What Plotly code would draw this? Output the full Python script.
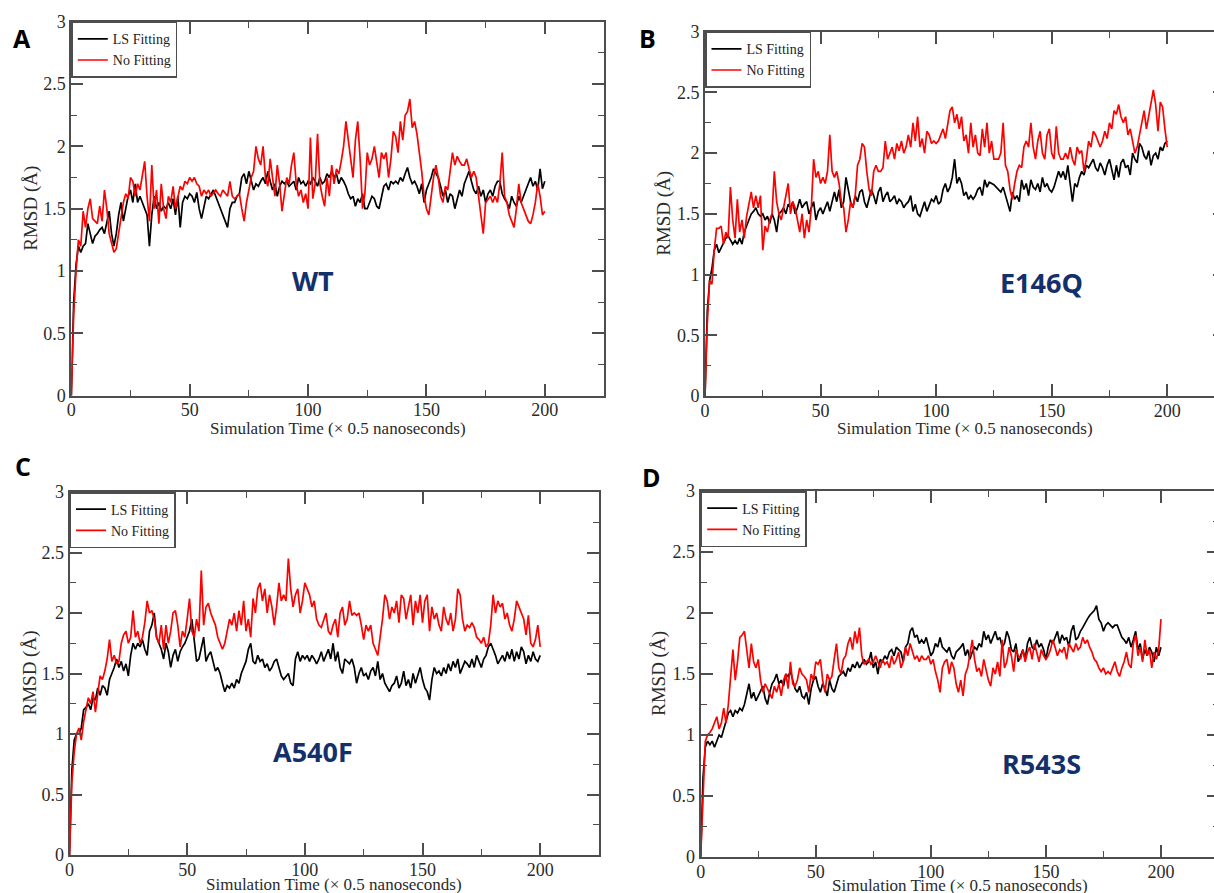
import plotly.graph_objects as go

# ---------------- data ----------------
time_steps = list(range(0, 201))

wt_ls = [0, 0.75, 1.05, 1.2,
         1.15, 1.2, 1.22, 1.38, 1.3, 1.22, 1.28,
         1.3, 1.33, 1.35, 1.3, 1.38, 1.48, 1.3, 1.2, 1.3, 1.45,
         1.55, 1.4, 1.5, 1.6, 1.65, 1.55, 1.7, 1.55, 1.6, 1.55,
         1.5, 1.45, 1.2, 1.45, 1.6, 1.5, 1.55, 1.48, 1.52, 1.5,
         1.55, 1.5, 1.58, 1.45, 1.6, 1.35, 1.55, 1.6, 1.58, 1.62,
         1.6, 1.55, 1.63, 1.5, 1.42, 1.5, 1.6, 1.58, 1.62, 1.65,
         1.6, 1.55, 1.5, 1.45, 1.4, 1.35, 1.5, 1.55, 1.55, 1.6,
         1.62, 1.75, 1.78, 1.7, 1.8, 1.72, 1.65, 1.7, 1.68, 1.72,
         1.75, 1.7, 1.8, 1.72, 1.65, 1.7, 1.6, 1.68, 1.72, 1.7,
         1.72, 1.68, 1.7, 1.72, 1.65, 1.75, 1.7, 1.72, 1.68, 1.72,
         1.7, 1.75, 1.72, 1.68, 1.75, 1.7, 1.72, 1.78, 1.75, 1.8,
         1.75, 1.78, 1.7, 1.75, 1.72, 1.68, 1.62, 1.58, 1.6, 1.52,
         1.58, 1.55, 1.62, 1.5, 1.5, 1.55, 1.6, 1.58, 1.52, 1.5,
         1.6, 1.68, 1.7, 1.65, 1.72, 1.7, 1.72, 1.7, 1.75, 1.72,
         1.78, 1.83, 1.75, 1.7, 1.72, 1.68, 1.62, 1.7, 1.55, 1.65,
         1.7, 1.75, 1.82, 1.78, 1.75, 1.68, 1.6, 1.65, 1.55, 1.62,
         1.6, 1.5, 1.58, 1.65, 1.6, 1.7, 1.75, 1.8, 1.72, 1.65,
         1.62, 1.68, 1.6, 1.65, 1.55, 1.62, 1.65, 1.6, 1.68, 1.72,
         1.72, 1.62, 1.58, 1.55, 1.5, 1.6, 1.55, 1.52, 1.6, 1.55,
         1.6, 1.65, 1.7, 1.75, 1.68, 1.72, 1.65, 1.82, 1.66, 1.72]

wt_nofit = [0, 0.65, 1.0, 1.25, 1.2,
            1.48, 1.35, 1.5, 1.58, 1.42, 1.4,
            1.38, 1.52, 1.4, 1.65, 1.5, 1.3, 1.22, 1.15, 1.18, 1.3,
            1.4, 1.55, 1.62, 1.58, 1.75, 1.72, 1.6, 1.7, 1.65, 1.75,
            1.88, 1.6, 1.4, 1.85, 1.5, 1.65, 1.38, 1.7, 1.5, 1.42,
            1.6, 1.55, 1.68, 1.5, 1.6, 1.68, 1.65, 1.72, 1.7, 1.75,
            1.72, 1.75, 1.7, 1.68, 1.6, 1.65, 1.62, 1.65, 1.6, 1.63,
            1.65, 1.62, 1.6, 1.65, 1.62, 1.6, 1.72, 1.6, 1.58, 1.6,
            1.62, 1.5, 1.4, 1.55, 1.65, 1.75, 1.8, 2.0, 1.9, 1.85,
            2.0, 1.75, 1.68, 1.9, 1.75, 1.6, 1.85, 1.7, 1.48, 1.62,
            1.75, 1.7, 1.85, 1.95, 1.7, 1.6, 1.65, 1.55, 1.62, 1.5,
            2.07, 1.58, 1.7, 2.1, 1.7, 1.6, 1.52, 1.75, 1.6, 1.85,
            1.7, 1.82, 1.78, 1.88, 2.0, 2.2, 2.05, 1.9, 1.75, 2.05,
            2.2, 1.9, 1.5, 1.62, 1.95, 1.85, 1.9, 2.0, 1.88, 1.75,
            1.95, 1.9, 1.95, 1.75, 1.9, 2.12, 2.08, 1.95, 2.2, 2.05,
            2.25, 2.28, 2.38, 2.15, 2.2, 2.1, 1.95, 1.8, 1.6, 1.5,
            1.45, 1.6, 1.75, 1.85, 1.75, 1.6, 1.55, 1.68, 1.65, 1.8,
            1.95, 1.85, 1.92, 1.88, 1.85, 1.85, 1.9, 1.82, 1.75, 1.8,
            1.75, 1.6, 1.45, 1.3, 1.55, 1.58, 1.6, 1.55, 1.6, 1.55,
            1.7, 1.95, 1.6, 1.55, 1.45, 1.4, 1.35, 1.5, 1.7, 1.55,
            1.5, 1.45, 1.4, 1.38, 1.45, 1.55, 1.7, 1.6, 1.45, 1.48]

e146q_ls = [0, 0.7, 0.95, 1.05, 1.2, 1.25, 1.18, 1.22, 1.25, 1.3,
            1.32, 1.28, 1.25, 1.28, 1.25, 1.3, 1.25, 1.35, 1.4, 1.45, 1.5,
            1.52, 1.55, 1.5, 1.48, 1.5, 1.45, 1.48, 1.42, 1.5, 1.45,
            1.35, 1.5, 1.52, 1.55, 1.5, 1.58, 1.55, 1.6, 1.5, 1.55,
            1.62, 1.55, 1.58, 1.6, 1.5, 1.55, 1.6, 1.45, 1.52, 1.55,
            1.5, 1.55, 1.6, 1.52, 1.6, 1.68, 1.6, 1.7, 1.55, 1.6,
            1.8, 1.7, 1.6, 1.55, 1.65, 1.6, 1.68, 1.7, 1.6, 1.55,
            1.62, 1.7, 1.65, 1.58, 1.68, 1.72, 1.6, 1.65, 1.68, 1.6,
            1.62, 1.65, 1.58, 1.62, 1.6, 1.55, 1.58, 1.6, 1.65, 1.52,
            1.58, 1.5, 1.48, 1.55, 1.6, 1.52, 1.58, 1.62, 1.6, 1.65,
            1.58, 1.6, 1.7, 1.75, 1.68, 1.72, 1.8, 1.95, 1.75, 1.8,
            1.75, 1.65, 1.68, 1.62, 1.65, 1.62, 1.65, 1.7, 1.72, 1.65,
            1.78, 1.72, 1.76, 1.75, 1.74, 1.72, 1.7, 1.68, 1.72, 1.65,
            1.6, 1.52, 1.68, 1.62, 1.65, 1.6, 1.78, 1.7, 1.75, 1.65,
            1.78, 1.72, 1.7, 1.75, 1.68, 1.8, 1.72, 1.75, 1.7, 1.68,
            1.72, 1.78, 1.85, 1.8, 1.85, 1.78, 1.9, 1.75, 1.6, 1.75,
            1.72, 1.8, 1.85, 1.82, 1.9, 1.88, 1.92, 1.95, 1.88, 1.85,
            1.92, 1.88, 1.82, 1.9, 1.95, 1.85, 1.78, 1.9, 1.8, 1.92,
            1.95, 1.88, 1.9, 1.82, 2.0, 1.95, 1.92, 2.08, 2.05, 1.98,
            1.95, 2.02, 1.9, 1.98, 2.0, 1.95, 2.05, 2.02, 2.08, 2.1]

e146q_nofit = [0, 0.6, 0.95, 0.92, 1.2, 1.38, 1.38, 1.4, 1.25, 1.35, 1.3,
               1.72, 1.45, 1.3, 1.62, 1.35, 1.45, 1.3, 1.48, 1.58, 1.68,
               1.55, 1.65, 1.55, 1.65, 1.2, 1.4, 1.35, 1.45, 1.5, 1.85,
               1.6, 1.5, 1.45, 1.55, 1.65, 1.75, 1.5, 1.6, 1.55, 1.45,
               1.35, 1.5, 1.3, 1.45, 1.35, 1.55, 1.95, 1.8, 1.85, 1.75,
               1.8, 1.75, 1.85, 2.15, 1.85, 1.8, 1.85, 1.75, 1.6, 1.55,
               1.35, 1.45, 1.6, 1.55, 1.65, 1.9, 1.95, 2.08, 2.05, 1.85,
               1.7, 1.65, 1.85, 1.9, 1.85, 1.85, 1.88, 2.1, 1.95, 2.0,
               2.05, 1.95, 2.08, 2.02, 2.1, 2.0, 2.05, 2.15, 2.05, 2.25,
               2.1, 2.3, 2.05, 2.12, 2.0, 2.18, 2.15, 2.08, 2.1, 2.08,
               2.1, 2.15, 2.2, 2.12, 2.25, 2.35, 2.38, 2.25, 2.32, 2.2,
               2.3, 2.1, 2.15, 2.0, 2.25, 2.05, 2.15, 2.0, 1.98, 2.2,
               2.05, 2.25, 2.0, 2.1, 1.95, 1.95, 1.95, 2.0, 2.25, 1.9,
               1.85, 1.7, 1.62, 1.75, 1.85, 1.9, 1.88, 2.05, 2.1, 2.05,
               2.25, 2.05, 1.95, 2.1, 2.18, 2.0, 1.95, 2.15, 2.2, 2.0,
               1.95, 2.22, 2.0, 1.95, 1.95, 2.0, 1.95, 2.05, 1.95, 1.9,
               2.05, 2.0, 2.02, 1.85, 1.95, 2.1, 2.05, 2.18, 2.15, 2.1,
               2.05, 2.1, 2.18, 2.12, 2.25, 2.2, 2.35, 2.32, 2.4, 2.3,
               2.25, 2.3, 2.15, 2.2, 2.1, 2.0, 2.05, 2.15, 2.25, 2.35,
               2.2, 2.3, 2.4, 2.52, 2.4, 2.18, 2.42, 2.38, 2.2, 2.05]

a540f_ls = [0, 0.7, 0.95, 1.0, 1.0, 1.05, 1.2, 1.22, 1.25, 1.2, 1.3,
            1.28, 1.38, 1.32, 1.4, 1.38, 1.32, 1.45, 1.5, 1.55, 1.62,
            1.55, 1.6, 1.52, 1.58, 1.48, 1.65, 1.75, 1.7, 1.75, 1.72,
            1.78, 1.7, 1.65, 1.85, 1.9, 2.0, 1.8, 1.75, 1.7, 1.62,
            1.75, 1.68, 1.55, 1.65, 1.7, 1.6, 1.68, 1.72, 1.75, 1.8,
            1.85, 1.95, 1.75, 1.6, 1.62, 1.72, 1.8, 1.6, 1.65, 1.68,
            1.6, 1.52, 1.55, 1.5, 1.42, 1.35, 1.4, 1.38, 1.42, 1.38,
            1.45, 1.42, 1.5, 1.55, 1.6, 1.7, 1.75, 1.6, 1.58, 1.65,
            1.6, 1.62, 1.55, 1.58, 1.52, 1.55, 1.6, 1.62, 1.55, 1.48,
            1.45, 1.48, 1.5, 1.42, 1.4, 1.62, 1.68, 1.6, 1.65, 1.62,
            1.65, 1.6, 1.65, 1.62, 1.58, 1.62, 1.68, 1.6, 1.65, 1.7,
            1.62, 1.75, 1.6, 1.68, 1.55, 1.5, 1.62, 1.6, 1.58, 1.62,
            1.55, 1.42, 1.5, 1.55, 1.48, 1.5, 1.45, 1.52, 1.55, 1.48,
            1.6, 1.45, 1.5, 1.42, 1.38, 1.35, 1.4, 1.42, 1.48, 1.38,
            1.42, 1.52, 1.4, 1.45, 1.38, 1.5, 1.42, 1.48, 1.55, 1.45,
            1.38, 1.35, 1.28, 1.45, 1.55, 1.5, 1.52, 1.48, 1.55, 1.5,
            1.58, 1.52, 1.6, 1.55, 1.62, 1.5, 1.55, 1.6, 1.58, 1.55,
            1.62, 1.55, 1.65, 1.6, 1.55, 1.62, 1.65, 1.72, 1.75, 1.7,
            1.65, 1.58, 1.62, 1.65, 1.6, 1.68, 1.62, 1.7, 1.6, 1.68,
            1.62, 1.72, 1.68, 1.58, 1.65, 1.6, 1.68, 1.62, 1.6, 1.65]

a540f_nofit = [0, 0.6, 0.85, 1.0, 1.05, 0.95, 1.1, 1.2, 1.3, 1.25, 1.35,
               1.18, 1.35, 1.48, 1.45, 1.52, 1.62, 1.78, 1.6, 1.65, 1.58,
               1.6, 1.75, 1.82, 1.85, 1.75, 1.8, 2.02, 1.8, 1.85, 1.75,
               1.8, 1.92, 2.1, 2.0, 2.02, 1.95, 1.8, 1.75, 1.9, 1.7,
               1.9, 1.75, 1.85, 2.0, 2.02, 1.9, 1.72, 1.85, 1.8, 1.95,
               2.12, 1.85, 1.8, 1.95, 1.85, 2.35, 1.9, 2.05, 2.08, 2.0,
               1.95, 1.9, 1.8, 1.75, 1.7, 1.75, 1.85, 1.95, 1.9, 2.0,
               1.85, 2.02, 1.9, 2.1, 1.85, 1.95, 1.8, 2.12, 2.0, 2.2,
               2.25, 2.1, 2.2, 2.0, 2.15, 2.05, 1.9, 2.05, 2.25, 2.1,
               2.15, 2.1, 2.45, 2.2, 2.05, 2.15, 2.2, 2.0, 2.1, 2.25,
               2.2, 2.15, 2.05, 2.1, 1.95, 1.9, 1.88, 1.95, 2.0, 1.85,
               1.82, 1.9, 1.95, 1.8, 2.0, 2.05, 1.9, 1.95, 2.1, 1.98,
               2.0, 1.98, 2.0, 1.9, 1.78, 1.9, 1.85, 1.9, 1.75, 1.7,
               1.65, 1.8, 1.95, 2.15, 2.1, 1.95, 2.05, 2.0, 2.1, 1.92,
               2.15, 2.12, 1.95, 2.05, 2.15, 1.9, 2.1, 2.0, 2.15, 1.92,
               2.1, 2.15, 1.85, 2.05, 1.95, 2.0, 1.9, 1.85, 2.05, 1.95,
               1.9, 2.0, 1.85, 1.95, 2.2, 2.15, 1.95, 1.85, 1.9, 1.88,
               1.92, 1.88, 1.8, 1.78, 1.75, 1.8, 1.72, 1.75, 1.9, 2.15,
               2.0, 2.1, 2.05, 2.08, 1.95, 2.0, 1.9, 1.85, 1.95, 2.1,
               2.05, 2.0, 1.95, 1.82, 1.98, 1.75, 1.72, 1.78, 1.9, 1.72]

r543s_ls = [0, 0.65, 0.9, 0.95, 0.92, 0.95, 0.9, 0.95, 1.0, 0.98, 1.05,
            1.1, 1.18, 1.2, 1.15, 1.2, 1.18, 1.22, 1.2, 1.25, 1.35,
            1.42, 1.3, 1.35, 1.28, 1.32, 1.35, 1.4, 1.3, 1.25, 1.35,
            1.42, 1.45, 1.5, 1.42, 1.45, 1.4, 1.5, 1.48, 1.52, 1.45,
            1.38, 1.35, 1.4, 1.32, 1.3, 1.35, 1.25, 1.38, 1.45, 1.48,
            1.4, 1.35, 1.42, 1.38, 1.32, 1.45, 1.38, 1.35, 1.42, 1.48,
            1.5, 1.52, 1.48, 1.55, 1.52, 1.58, 1.55, 1.6, 1.55, 1.58,
            1.62, 1.58, 1.6, 1.68, 1.55, 1.6, 1.5, 1.62, 1.6, 1.65,
            1.62, 1.68, 1.7, 1.65, 1.72, 1.7, 1.68, 1.6, 1.72, 1.75,
            1.85, 1.88, 1.8, 1.82, 1.75, 1.78, 1.75, 1.8, 1.72, 1.65,
            1.68, 1.75, 1.72, 1.8, 1.72, 1.7, 1.68, 1.72, 1.65, 1.62,
            1.68, 1.7, 1.72, 1.75, 1.65, 1.7, 1.62, 1.68, 1.72, 1.7,
            1.75, 1.72, 1.85, 1.78, 1.82, 1.75, 1.8, 1.85, 1.78, 1.8,
            1.72, 1.75, 1.85, 1.8, 1.7, 1.68, 1.75, 1.6, 1.65, 1.7,
            1.62, 1.75, 1.8, 1.72, 1.7, 1.78, 1.72, 1.75, 1.7, 1.62,
            1.72, 1.78, 1.75, 1.8, 1.85, 1.75, 1.82, 1.78, 1.8, 1.72,
            1.85, 1.9, 1.78, 1.8, 1.85, 1.88, 1.92, 1.95, 1.98, 2.0,
            2.02, 2.06, 1.95, 1.92, 1.85, 1.9, 1.92, 1.9, 1.88, 1.9,
            1.9, 1.85, 1.8, 1.78, 1.75, 1.8, 1.72, 1.78, 1.85, 1.7,
            1.75, 1.62, 1.7, 1.65, 1.72, 1.68, 1.6, 1.72, 1.65, 1.72]

r543s_nofit = [0, 0.55, 0.95, 1.0, 1.02, 1.05, 1.1, 1.15, 1.05, 1.1, 1.22,
               1.1, 1.25, 1.5, 1.7, 1.45, 1.6, 1.8, 1.82, 1.85, 1.68,
               1.55, 1.75, 1.6, 1.55, 1.62, 1.45, 1.35, 1.42, 1.38, 1.35,
               1.3, 1.4, 1.35, 1.42, 1.32, 1.45, 1.5, 1.38, 1.6, 1.42,
               1.4, 1.45, 1.55, 1.5, 1.48, 1.45, 1.35, 1.5, 1.45, 1.6,
               1.58, 1.62, 1.45, 1.35, 1.5, 1.45, 1.48, 1.62, 1.75, 1.55,
               1.5, 1.62, 1.65, 1.75, 1.8, 1.7, 1.85, 1.75, 1.88, 1.65,
               1.58, 1.6, 1.62, 1.58, 1.6, 1.65, 1.6, 1.55, 1.62, 1.58,
               1.6, 1.55, 1.65, 1.58, 1.62, 1.68, 1.55, 1.6, 1.72, 1.65,
               1.75, 1.68, 1.62, 1.65, 1.6, 1.65, 1.62, 1.62, 1.65, 1.58,
               1.62, 1.52, 1.45, 1.35, 1.55, 1.6, 1.62, 1.5, 1.6, 1.55,
               1.42, 1.35, 1.45, 1.32, 1.5, 1.55, 1.65, 1.78, 1.62, 1.52,
               1.55, 1.48, 1.62, 1.52, 1.45, 1.4, 1.55, 1.5, 1.6, 1.48,
               1.78, 1.55, 1.6, 1.72, 1.65, 1.52, 1.7, 1.65, 1.62, 1.7,
               1.6, 1.68, 1.72, 1.62, 1.75, 1.68, 1.6, 1.7, 1.65, 1.62,
               1.65, 1.7, 1.78, 1.72, 1.65, 1.7, 1.68, 1.72, 1.62, 1.75,
               1.72, 1.68, 1.75, 1.7, 1.72, 1.8, 1.75, 1.78, 1.72, 1.68,
               1.62, 1.6, 1.55, 1.52, 1.55, 1.5, 1.52, 1.5, 1.55, 1.6,
               1.52, 1.48, 1.55, 1.6, 1.68, 1.58, 1.55, 1.75, 1.82, 1.65,
               1.72, 1.6, 1.78, 1.65, 1.7, 1.55, 1.68, 1.62, 1.7, 1.95]

panel_letters = ["A", "B", "C", "D"]
mutant_names = ["WT", "E146Q", "A540F", "R543S"]
series_names = ["LS Fitting", "No Fitting"]
x_tick_values = [0, 50, 100, 150, 200]
y_tick_values = [0, 0.5, 1, 1.5, 2, 2.5, 3]
x_title = "Simulation Time (\u00d7 0.5 nanoseconds)"
y_title = "RMSD (\u00c5)"

# ---------------- layout geometry (pixels) ----------------
W, H = 1230, 893   # slightly wider than the window: right panels are cropped like the reference
# (left, right, top, bottom) of each plot frame in pixels
frames = [(71.3, 604.0, 21.7, 395.7),
          (705.0, 1225.0, 31.7, 396.0),
          (69.5, 599.0, 492.0, 855.0),
          (700.7, 1218.5, 491.0, 857.0)]
letter_pos = [(22, 38), (647, 38), (23, 466), (652, 477)]
name_pos = [(313, 281), (1041, 282), (313, 751), (1041, 763)]
xtitle_y = [428, 428, 884, 885]
ytitle_x = [31, 664, 29, 659]

data_sets = [(wt_ls, wt_nofit), (e146q_ls, e146q_nofit),
             (a540f_ls, a540f_nofit), (r543s_ls, r543s_nofit)]
colors = ["#000000", "#ff0000"]

SERIF = "Liberation Serif"
SANS = "Open Sans"
FRAME = "#4d4d4d"

fig = go.Figure()
annotations = []


def px_x(p):
    return p / W


def px_y(p):
    return 1 - p / H


for i in range(4):
    l, r, t, b = frames[i]
    xa = "xaxis" if i == 0 else f"xaxis{i+1}"
    ya = "yaxis" if i == 0 else f"yaxis{i+1}"
    xr = "x" if i == 0 else f"x{i+1}"
    yr = "y" if i == 0 else f"y{i+1}"
    lg = "legend" if i == 0 else f"legend{i+1}"
    for s in range(2):
        fig.add_trace(go.Scatter(
            x=time_steps, y=data_sets[i][s], mode="lines",
            name=series_names[s], line=dict(color=colors[s], width=1.7),
            xaxis=xr, yaxis=yr, legend=lg, showlegend=True))

    common = dict(showline=True, linecolor=FRAME, linewidth=2, mirror="allticks",
                  ticks="inside", ticklen=12, tickwidth=1.5, tickcolor=FRAME,
                  showgrid=False, zeroline=False, automargin=False,
                  tickfont=dict(family=SERIF, size=18, color="#2a2a2a"))
    fig.update_layout(**{
        xa: dict(domain=[px_x(l), px_x(r)], range=[0, 225], tickvals=x_tick_values,
                 anchor=yr, ticklabelstandoff=-3,
                 minor=dict(ticks="inside", ticklen=6, tickwidth=1.2, tickcolor=FRAME,
                            dtick=25, tick0=0, showgrid=False),
                 **common),
        ya: dict(domain=[px_y(b), px_y(t)], range=[0, 3], tickvals=y_tick_values,
                 anchor=xr,
                 minor=dict(ticks="inside", ticklen=6, tickwidth=1.2, tickcolor=FRAME,
                            dtick=0.25, tick0=0, showgrid=False),
                 **common),
        lg: dict(x=px_x(l), y=px_y(t), xanchor="left", yanchor="top",
                 xref="paper", yref="paper",
                 bgcolor="white", bordercolor=FRAME, borderwidth=1.5,
                 font=dict(family=SERIF, size=14, color="#222"),
                 tracegroupgap=0, itemwidth=30, traceorder="normal"),
    })

    annotations.append(dict(text=f"<b>{panel_letters[i]}</b>", x=px_x(letter_pos[i][0]),
                            y=px_y(letter_pos[i][1]), xref="paper", yref="paper",
                            showarrow=False, font=dict(family=SANS, size=25, color="black"),
                            xanchor="center", yanchor="middle"))
    annotations.append(dict(text=f"<b>{mutant_names[i]}</b>", x=px_x(name_pos[i][0]),
                            y=px_y(name_pos[i][1]), xref="paper", yref="paper",
                            showarrow=False, font=dict(family=SANS, size=27, color="#13306b"),
                            xanchor="center", yanchor="middle"))
    annotations.append(dict(text=x_title, x=px_x((l + r) / 2), y=px_y(xtitle_y[i]),
                            xref="paper", yref="paper", showarrow=False,
                            font=dict(family=SERIF, size=17, color="#2a2a2a"),
                            xanchor="center", yanchor="middle"))
    annotations.append(dict(text=y_title, x=px_x(ytitle_x[i]), y=px_y((t + b) / 2),
                            xref="paper", yref="paper", showarrow=False, textangle=-90,
                            font=dict(family=SERIF, size=19, color="#2a2a2a"),
                            xanchor="center", yanchor="middle"))

fig.update_layout(width=W, height=H,
                  margin=dict(l=0, r=0, t=0, b=0, pad=0, autoexpand=False),
                  paper_bgcolor="white", plot_bgcolor="white",
                  annotations=annotations, showlegend=True)

pin_script = (
    "var gd = document.getElementById('{plot_id}');"
    "document.documentElement.style.margin='0';"
    "document.documentElement.style.overflow='hidden';"
    "document.body.style.margin='0';"
    "document.body.style.overflow='hidden';"
    "gd.style.position='fixed'; gd.style.left='0px'; gd.style.top='0px';"
)

fig.write_html("out.html", config={"displayModeBar": False}, post_script=pin_script)
